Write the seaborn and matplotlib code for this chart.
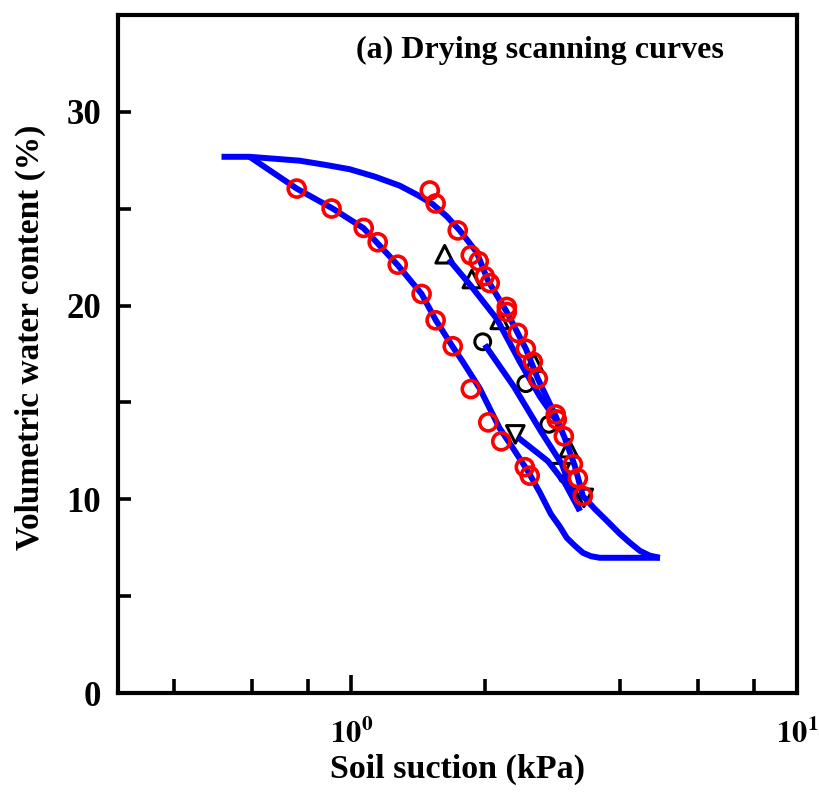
import matplotlib
matplotlib.use("Agg")
import matplotlib.pyplot as plt
import seaborn as sns
import numpy as np
import pandas as pd
from matplotlib.ticker import FixedLocator, NullFormatter, FixedFormatter

# ---------------- data ----------------
# main drying curve (model)
dry_x = [0.512, 0.592, 0.766, 0.872, 0.992, 1.129, 1.285, 1.403, 1.523, 1.638, 1.752, 1.913,
         2.025, 2.234, 2.465, 2.622, 2.877, 3.015, 3.176, 3.309, 3.52, 3.746, 4.005, 4.218,
         4.442, 4.677, 4.925]
dry_y = [27.68, 27.68, 27.48, 27.27, 27.04, 26.66, 26.19, 25.73, 25.24, 24.61, 23.88, 22.75,
         21.31, 19.67, 17.77, 16.23, 14.28, 13.15, 11.71, 10.17, 9.50, 8.89, 8.22, 7.76,
         7.34, 7.09, 6.98]
# main wetting curve (model)
wet_x = [0.592, 0.755, 0.909, 1.067, 1.272, 1.439, 1.547, 1.690, 1.780, 1.943, 2.154,
         2.320, 2.492, 2.650, 2.805, 2.940, 3.045, 3.176, 3.309, 3.453, 3.613, 4.925]
wet_y = [27.68, 26.04, 25.01, 23.99, 22.09, 20.60, 19.26, 17.87, 17.10, 15.72, 13.66,
         12.55, 11.45, 10.35, 9.24, 8.58, 8.01, 7.60, 7.24, 7.06, 6.98, 6.98]
# drying scanning curves (model)
scan1_x = [1.655, 1.865, 2.122, 2.389, 2.649, 2.877]
scan1_y = [22.39, 20.96, 19.31, 17.10, 15.31, 14.12]
scan2_x = [1.994, 2.317, 2.664, 2.969, 3.258]
scan2_y = [17.98, 15.82, 13.51, 11.81, 9.40]
scan3_x = [2.364, 2.762, 3.015, 3.258]
scan3_y = [13.20, 11.97, 10.84, 9.40]

# measured main wetting data
mw_x = [0.755, 0.904, 1.067, 1.147, 1.272, 1.439, 1.547, 1.690, 1.855, 2.030, 2.171, 2.452, 2.515]
mw_y = [26.04, 25.01, 24.01, 23.27, 22.11, 20.60, 19.24, 17.90, 15.69, 13.97, 12.99, 11.66, 11.22]
# measured main drying data
md_x = [1.501, 1.547, 1.734, 1.855, 1.933, 1.994, 2.046, 2.234, 2.234, 2.364, 2.465, 2.556,
        2.622, 2.877, 2.892, 2.999, 3.143, 3.225, 3.309]
md_y = [25.94, 25.27, 23.88, 22.60, 22.29, 21.52, 21.16, 19.93, 19.67, 18.59, 17.77, 17.10,
        16.23, 14.38, 14.12, 13.25, 11.81, 11.09, 10.17]
# measured scanning data
s1_x = [1.621, 1.865, 2.154, 2.570, 3.077]
s1_y = [22.65, 21.37, 19.26, 17.05, 12.64]
s2_x = [1.973, 2.465, 2.776]
s2_y = [18.13, 15.97, 13.87]
s3_x = [2.335, 2.953, 3.326]
s3_y = [13.35, 11.40, 10.07]

major_ticks = [1, 10]
major_labels = [r"$\mathbf{10^{0}}$", r"$\mathbf{10^{1}}$"]
minor_ticks = [0.4, 0.6, 0.8, 2, 4, 6, 8]
y_major = [0, 10, 20, 30]
y_minor = [5, 15, 25]

# ---------------- style ----------------
sns.set_style("white")
plt.rcParams["font.family"] = ["Liberation Serif", "DejaVu Serif"]
plt.rcParams["font.weight"] = "bold"
plt.rcParams["mathtext.fontset"] = "stix"
plt.rcParams["text.color"] = "black"
plt.rcParams["axes.labelcolor"] = "black"
plt.rcParams["xtick.color"] = "black"
plt.rcParams["ytick.color"] = "black"

fig = plt.figure(figsize=(8.2, 7.92), dpi=100)
ax = fig.add_axes([118/820, 1-693/792, (797-118)/820, (693-15)/792])

blue = "#0000FF"
red = "#FF0000"
lw = 4.3

# black scanning data (below the lines)
mk = dict(facecolor="none", linewidth=2.2, legend=False, ax=ax, zorder=2)
sns.scatterplot(x=s1_x, y=s1_y, marker="^", s=160, edgecolor="black", **mk)
sns.scatterplot(x=s2_x, y=s2_y, marker="o", s=130, edgecolor="black", **mk)
sns.scatterplot(x=s3_x, y=s3_y, marker="v", s=160, edgecolor="black", **mk)

for xs, ys in [(dry_x, dry_y), (wet_x, wet_y), (scan1_x, scan1_y),
               (scan2_x, scan2_y), (scan3_x, scan3_y)]:
    sns.lineplot(x=xs, y=ys, sort=False, estimator=None, color=blue, linewidth=lw,
                 ax=ax, zorder=3, solid_capstyle="butt", solid_joinstyle="round")

mr = dict(facecolor="none", linewidth=2.6, legend=False, ax=ax, zorder=4)
sns.scatterplot(x=mw_x, y=mw_y, marker="o", s=150, edgecolor=red, **mr)
sns.scatterplot(x=md_x, y=md_y, marker="o", s=150, edgecolor=red, **mr)

ax.set_xscale("log")
ax.set_xlim(0.3, 10)
ax.set_ylim(0, 35)
ax.xaxis.set_major_locator(FixedLocator(major_ticks))
ax.xaxis.set_major_formatter(FixedFormatter(major_labels))
ax.xaxis.set_minor_locator(FixedLocator(minor_ticks))
ax.xaxis.set_minor_formatter(NullFormatter())
ax.yaxis.set_major_locator(FixedLocator(y_major))
ax.yaxis.set_minor_locator(FixedLocator(y_minor))
ax.yaxis.set_minor_formatter(NullFormatter())

ax.tick_params(axis="x", which="major", direction="in", length=13, width=2.6,
               labelsize=22, pad=19, bottom=True, top=False)
ax.tick_params(axis="x", which="minor", direction="in", length=10, width=2.6,
               bottom=True, top=False)
ax.tick_params(axis="y", which="both", direction="in", length=9, width=2.6,
               labelsize=25, pad=12, left=True, right=False)
for lab in ax.get_yticklabels():
    lab.set_fontweight("bold")

for sp in ax.spines.values():
    sp.set_linewidth(3.0)
    sp.set_color("black")

ax.set_xlabel("Soil suction (kPa)", fontsize=24.5, fontweight="bold")
ax.xaxis.set_label_coords(0.5, -0.089)
ax.set_ylabel("Volumetric water content (%)", fontsize=24, fontweight="bold")
ax.yaxis.set_label_coords(-0.106, 0.525)
ax.text(0.621, 0.948, "(a) Drying scanning curves", transform=ax.transAxes,
        fontsize=23, fontweight="bold", ha="center", va="center")

fig.savefig("out.png", dpi=100)
